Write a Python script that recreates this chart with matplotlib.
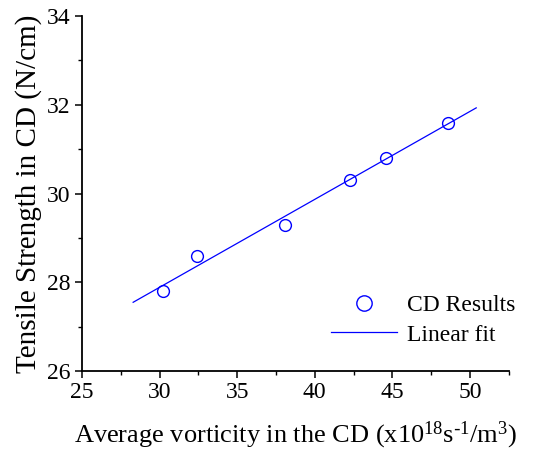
import matplotlib
matplotlib.use("Agg")
import matplotlib.pyplot as plt
from matplotlib.ticker import MultipleLocator

# measured points
vorticity = [30.2, 32.4, 38.1, 42.3, 44.6, 48.6]
strength = [27.8, 28.6, 29.3, 30.3, 30.8, 31.6]

# fitted line end points
fit_x = [28.3, 50.4]
fit_y = [27.55, 31.93]

plt.rcParams['font.family'] = ['Liberation Serif', 'DejaVu Serif']

fig = plt.figure(figsize=(5.39, 4.57), dpi=100)
ax = fig.add_axes([0.152, 0.188, 0.792, 0.777])

ax.plot(vorticity, strength, linestyle='none', marker='o', markersize=8.5,
        markerfacecolor='none', markeredgecolor='#0000ff', markeredgewidth=1.0,
        label='CD Results')
ax.plot(fit_x, fit_y, color='#0000ff', linewidth=0.9, label='Linear fit')

ax.set_xlim(25, 52.5)
ax.set_ylim(26, 34)
ax.xaxis.set_major_locator(MultipleLocator(5))
ax.xaxis.set_minor_locator(MultipleLocator(2.5))
ax.yaxis.set_major_locator(MultipleLocator(2))
ax.yaxis.set_minor_locator(MultipleLocator(1))

for side in ('top', 'right'):
	ax.spines[side].set_visible(False)
for side in ('left', 'bottom'):
	ax.spines[side].set_linewidth(1.3)

ax.tick_params(which='major', direction='out', length=5, width=1.1, labelsize=17, pad=3)
ax.tick_params(which='minor', direction='out', length=3, width=1.0)

ax.set_xlabel('Average vorticity in the CD ($\\mathregular{x10^{18}s^{\\text{-}1}/m^3}$)', fontsize=19, labelpad=12)
ax.set_ylabel('Tensile Strength in CD (N/cm)', fontsize=21, labelpad=4)

ax.legend(loc='lower right', bbox_to_anchor=(1.065, 0.012), frameon=False, fontsize=17,
          markerscale=1.3, handlelength=2.8, handletextpad=0.4, labelspacing=0.35)

fig.savefig('out.png', dpi=100)
